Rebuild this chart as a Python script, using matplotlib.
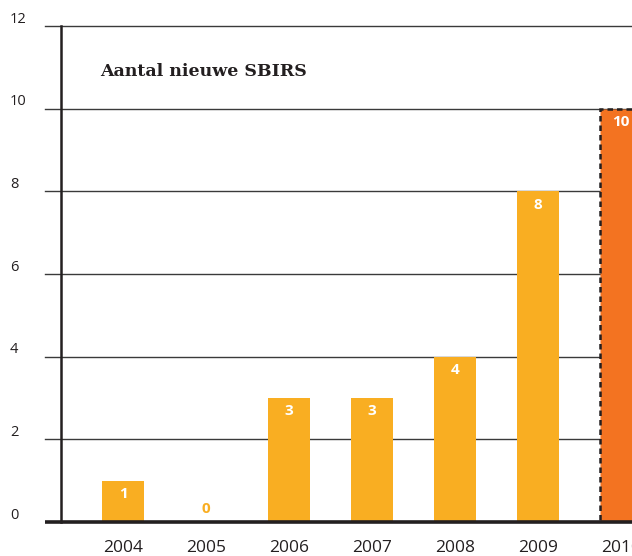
import matplotlib
matplotlib.use("Agg")
import matplotlib.pyplot as plt

years = ["2004", "2005", "2006", "2007", "2008", "2009", "2010"]
values = [1, 0, 3, 3, 4, 8, 10]
bar_colors = ["#F9AE22"] * 6 + ["#F37321"]
yticks = [0, 2, 4, 6, 8, 10, 12]
title = "Aantal nieuwe SBIRS"

W, H = 632, 556
fig = plt.figure(figsize=(W / 100, H / 100), dpi=100)
ax = fig.add_axes([61 / W, (H - 522) / H, (683 - 61) / W, (522 - 26) / H])

x = list(range(len(years)))
ax.set_xlim(-0.747, 6.747)
ax.set_ylim(0, 12)

grid_col = "#3a3a3a"
for yv in yticks[1:]:
    ax.plot([-0.94, 7.0], [yv, yv], color=grid_col, lw=1.0, clip_on=False, zorder=1)

for i, (v, c) in enumerate(zip(values, bar_colors)):
    if i == len(values) - 1:
        ax.bar(i, v, width=0.506, color=c, edgecolor="#231f20", linewidth=1.8,
               linestyle=(0, (2.2, 1.6)), zorder=3)
    else:
        ax.bar(i, v, width=0.506, color=c, zorder=3)

for i, v in enumerate(values):
    if v > 0:
        ax.annotate(str(v), (i, v), xytext=(0, -9.5), textcoords="offset points",
                    ha="center", va="center", color="white", fontsize=11,
                    fontweight="bold", family="Open Sans", zorder=5)
    else:
        ax.annotate(str(v), (i, 0), xytext=(0, 9.5), textcoords="offset points",
                    ha="center", va="center", color="#F9AE22", fontsize=11,
                    fontweight="bold", family="Open Sans", zorder=5)

# baseline and left spine
ax.plot([-0.94, 7.0], [0, 0], color="#231f20", lw=2.6, clip_on=False, zorder=6,
        solid_capstyle="butt")
for s in ["top", "right", "bottom"]:
    ax.spines[s].set_visible(False)
ax.spines["left"].set_linewidth(1.8)
ax.spines["left"].set_color("#231f20")
ax.spines["left"].set_zorder(6)

ax.set_yticks([])
for yv in yticks:
    ax.annotate(str(yv), xy=(0, yv), xycoords=("figure pixels", "data"),
                xytext=(10 * 0.72, 5.0), textcoords="offset points",
                ha="left", va="center", fontsize=10.5, color="#231f20",
                family="Open Sans", annotation_clip=False)

ax.set_xticks(x)
ax.set_xticklabels(years, fontsize=12.5, color="#231f20", family="Open Sans")
ax.tick_params(axis="x", length=0, pad=13)

fig.text(100 / W, 1 - 72 / H, title, fontsize=12.5, fontweight="bold",
         family="DejaVu Serif", color="#231f20", ha="left", va="center")

fig.savefig("out.png", dpi=100)
